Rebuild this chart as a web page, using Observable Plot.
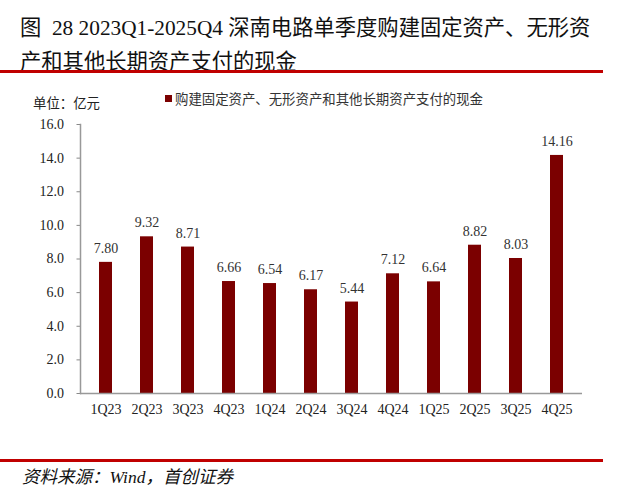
<!DOCTYPE html>
<html><head><meta charset="utf-8">
<script src="https://cdn.jsdelivr.net/npm/d3@7"></script>
<script src="https://cdn.jsdelivr.net/npm/@observablehq/plot@0.6"></script>
<style>
body{margin:0;background:#fff;width:633px;height:498px;position:relative;overflow:hidden;font-family:"Noto Sans CJK SC",sans-serif;}
.abs{position:absolute;white-space:nowrap;}
#title{left:20px;top:10px;font-size:21.3px;line-height:31px;color:#111;font-family:"Liberation Serif","Noto Sans CJK SC",serif;}
#title .cjk{font-family:"Noto Sans CJK SC",sans-serif;}
.rule{position:absolute;left:0;width:603px;background:#C00000;}
#unit{left:33px;top:92px;font-size:13.4px;color:#222;}
#legend{left:165px;top:88px;font-size:13.4px;color:#333;display:flex;align-items:center;}
#legend .sw{width:7px;height:7px;background:#7B0000;margin-right:3px;}
#source{left:22px;top:463px;font-size:17.5px;font-style:italic;color:#111;}
#chart{position:absolute;left:0;top:110px;}
</style></head>
<body>
<div id="title" class="abs"><span class="cjk">图</span>&nbsp; 28 2023Q1-2025Q4 <span class="cjk">深南电路单季度购建固定资产、无形资</span><br><span class="cjk">产和其他长期资产支付的现金</span></div>
<div class="rule" style="top:70px;height:3px;"></div>
<div id="unit" class="abs">单位：亿元</div>
<div id="legend" class="abs"><div class="sw"></div>购建固定资产、无形资产和其他长期资产支付的现金</div>
<div id="chart"></div>
<div class="rule" style="top:459px;height:2.5px;"></div>
<div id="source" class="abs">资料来源：<span style="font-family:'Liberation Serif',serif;">Wind</span>，首创证券</div>
<script>
const quarters = ["1Q23","2Q23","3Q23","4Q23","1Q24","2Q24","3Q24","4Q24","1Q25","2Q25","3Q25","4Q25"];
const values = [7.80, 9.32, 8.71, 6.66, 6.54, 6.17, 5.44, 7.12, 6.64, 8.82, 8.03, 14.16];
const yTicks = [0, 2, 4, 6, 8, 10, 12, 14, 16];

const data = quarters.map((q, i) => ({q, v: values[i]}));
const serif = "Liberation Serif, Times New Roman, serif";

const chart = Plot.plot({
  width: 633,
  height: 310,
  marginTop: 14,
  marginBottom: 27,
  marginLeft: 80,
  marginRight: 51,
  style: {fontFamily: serif, fontSize: "14px", color: "#222", background: "transparent"},
  x: {domain: quarters, paddingInner: 0.69, paddingOuter: 0.345, label: null},
  y: {domain: [0, 16], label: null},
  marks: [
    Plot.axisY({ticks: yTicks, tickFormat: d3.format(".1f"), tickSize: 3.5, tickPadding: 13, stroke: "#888", fontSize: 14, label: null}),
    Plot.axisX({tickSize: 0, tickPadding: 11, fontSize: 14, label: null}),
    Plot.barY(data, {x: "q", y: "v", fill: "#7B0000"}),
    Plot.ruleY([0], {stroke: "#999", strokeWidth: 1.5}),
    Plot.frame({anchor: "left", stroke: "#999", strokeWidth: 1.5}),
    Plot.text(data, {x: "q", y: "v", text: d => d.v.toFixed(2), dy: -14, fontSize: 14, fill: "#333"})
  ]
});
document.getElementById("chart").appendChild(chart);
</script>
</body></html>
